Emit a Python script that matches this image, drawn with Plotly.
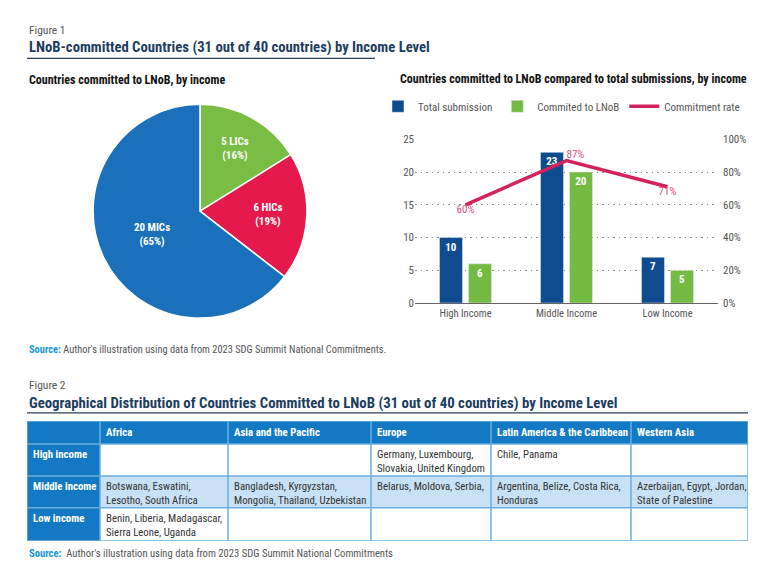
import plotly.graph_objects as go

W, H = 778, 564

# ---------------- data ----------------
pie_labels = ["LICs", "HICs", "MICs"]
pie_values = [5, 6, 20]

income_cats = ["High Income", "Middle Income", "Low Income"]
total_submission = [10, 23, 7]
committed = [6, 20, 5]
commit_rate = [0.60, 0.87, 0.71]

regions = ["Africa", "Asia and the Pacific", "Europe",
           "Latin America & the Caribbean", "Western Asia"]
income_rows = ["High income", "Middle income", "Low income"]
high_income = ["", "", "Germany, Luxembourg,<br>Slovakia, United Kingdom",
               "Chile, Panama", ""]
middle_income = ["Botswana, Eswatini,<br>Lesotho, South Africa",
                 "Bangladesh, Kyrgyzstan,<br>Mongolia, Thailand, Uzbekistan",
                 "Belarus, Moldova, Serbia,",
                 "Argentina, Belize, Costa Rica,<br>Honduras",
                 "Azerbaijan, Egypt, Jordan,<br>State of Palestine"]
low_income = ["Benin, Liberia, Madagascar,<br>Sierra Leone, Uganda", "", "", "", ""]
row_cells = [high_income, middle_income, low_income]

# ---------------- styling ----------------
COND = "Liberation Sans Narrow, Roboto Condensed, DejaVu Sans Condensed, Roboto, sans-serif"
NAVY_T = "#1c3d5e"
BLUE_PIE, GREEN_PIE, RED_PIE = "#1a70ba", "#7abd45", "#e5194c"
BAR_NAVY, BAR_GREEN = "#0f4c8f", "#74bb44"
LINE_RED = "#d4225a"
TBL_BLUE, TBL_LIGHT, TBL_LINE = "#1479c4", "#c8e1f5", "#6aaee0"
SRC_BLUE = "#1696d6"

# table geometry (layout only)
col_w = [73, 128, 143, 120, 140, 117]
row_h = [23, 32, 32, 33]
TBL_X0, TBL_Y0 = 27, 420

# vertical calibration of the rendered page
VA, VB = 4.6, 0.978


def px(x):
    return x / W


def py(y):
    return 1 - ((y - VA) / VB) / H


def cum(v):
    out = [0]
    for a in v:
        out.append(out[-1] + a)
    return out


x_edges = cum(col_w)
y_edges = cum(row_h)

fig = go.Figure()

# Pie
fig.add_trace(go.Pie(
    labels=pie_labels, values=pie_values, sort=False, direction="clockwise",
    rotation=0,
    marker=dict(colors=[GREEN_PIE, RED_PIE, BLUE_PIE], line=dict(color="white", width=1.5)),
    texttemplate="<b>%{value} %{label}<br>(%{percent:.0%})</b>",
    textposition="inside", insidetextorientation="horizontal",
    textfont=dict(family=COND, size=11, color="white"),
    domain=dict(x=[px(93), px(307)], y=[py(317), py(103)]),
    showlegend=False, hoverinfo="label+value+percent",
))

# Bars
for name, vals, col in [("Total submission", total_submission, BAR_NAVY),
                        ("Commited to LNoB", committed, BAR_GREEN)]:
    fig.add_trace(go.Bar(
        x=income_cats, y=vals, name=name,
        marker_color=col, texttemplate="<b>%{y}</b>", textposition="inside",
        insidetextanchor="end", textangle=0,
        textfont=dict(family=COND, size=11, color="white"),
        xaxis="x", yaxis="y",
    ))
fig.add_trace(go.Scatter(
    x=income_cats, y=commit_rate, name="Commitment rate", mode="lines+text",
    line=dict(color=LINE_RED, width=3.5),
    text=[f"{v:.0%}" for v in commit_rate],
    textposition=["bottom center", "top right", "bottom center"],
    textfont=dict(family=COND, size=11, color="#e0507a"),
    xaxis="x", yaxis="y2", cliponaxis=False,
))

# Table: cell fills as a heatmap on its own axes
fill_code = {"header": 0, "High income": 1, "Middle income": 2, "Low income": 1}
z = [[0] * len(col_w)]
for r in income_rows:
    z.append([0] + [fill_code[r]] * len(regions))
fig.add_trace(go.Heatmap(
    z=z, x=x_edges, y=y_edges, xaxis="x3", yaxis="y3",
    colorscale=[[0, TBL_BLUE], [0.5, "white"], [1, TBL_LIGHT]], zmin=0, zmax=2,
    showscale=False, hoverinfo="skip",
))

# ---------------- layout ----------------
ann = []


def text(x, y, s, size, color, **kw):
    ann.append(dict(x=px(x), y=py(y), xref="paper", yref="paper", text=s,
                    showarrow=False, xanchor="left", yanchor="middle",
                    font=dict(family=COND, size=size, color=color), **kw))


text(27, 29, "Figure 1", 11.5, "#555555")
text(27, 46, "<b>LNoB-committed Countries (31 out of 40 countries) by Income Level</b>", 14.7, NAVY_T)
text(27, 79, "<b>Countries committed to LNoB, by income</b>", 12, "#111111")
text(398, 78, "<b>Countries committed to LNoB compared to total submissions, by income</b>", 12, "#111111")
text(27, 348, f"<b><span style='color:{SRC_BLUE}'>Source:</span></b> Author's illustration using data from 2023 SDG Summit National Commitments.", 10.4, "#555555")
text(27, 384, "Figure 2", 11.5, "#555555")
text(27, 402, "<b>Geographical Distribution of Countries Committed to LNoB (31 out of 40 countries) by Income Level</b>", 14.8, NAVY_T)
text(27, 553, f"<b><span style='color:{SRC_BLUE}'>Source:</span></b>  Author's illustration using data from 2023 SDG Summit National Commitments", 10.6, "#555555")

# table texts
TF = 10.8
for j, reg in enumerate(regions):
    ann.append(dict(x=x_edges[j + 1] + 4, y=(y_edges[0] + y_edges[1]) / 2, xref="x3", yref="y3",
                    text=f"<b>{reg}</b>", showarrow=False, xanchor="left", yanchor="middle",
                    font=dict(family=COND, size=TF, color="white")))
for i, r in enumerate(income_rows):
    top = y_edges[i + 1]
    ann.append(dict(x=x_edges[0] + 4, y=top + 2, xref="x3", yref="y3",
                    text=f"<b>{r}</b>", showarrow=False, xanchor="left", yanchor="top",
                    font=dict(family=COND, size=TF, color="white")))
    for j, cell in enumerate(row_cells[i]):
        if cell:
            ann.append(dict(x=x_edges[j + 1] + 4, y=top + 2, xref="x3", yref="y3",
                            text=cell, showarrow=False, xanchor="left", yanchor="top", align="left",
                            font=dict(family=COND, size=TF, color="#333333")))

shapes = [
    dict(type="line", xref="paper", yref="paper", x0=px(27), x1=px(375), y0=py(57), y1=py(57),
         line=dict(color="#2b3f55", width=1.2)),
    dict(type="line", xref="paper", yref="paper", x0=px(27), x1=px(748), y0=py(412), y1=py(412),
         line=dict(color="#2b3f55", width=1.2)),
]
for xe in x_edges:
    shapes.append(dict(type="line", xref="x3", yref="y3", x0=xe, x1=xe, y0=0, y1=y_edges[-1],
                       line=dict(color=TBL_LINE, width=1.5), layer="above"))
for ye in y_edges:
    shapes.append(dict(type="line", xref="x3", yref="y3", x0=0, x1=x_edges[-1], y0=ye, y1=ye,
                       line=dict(color=TBL_LINE, width=1.5), layer="above"))

fig.update_layout(
    width=W, height=H, margin=dict(l=0, r=0, t=0, b=0),
    paper_bgcolor="white", plot_bgcolor="white",
    font=dict(family=COND, size=11, color="#555555"),
    annotations=ann, shapes=shapes,
    barmode="group", bargap=0.426, bargroupgap=0.207,
    xaxis=dict(domain=[px(415), px(718)], anchor="y", showline=True, linecolor="#666666",
               linewidth=1, ticks="", tickfont=dict(family=COND, size=10.5, color="#555555"),
               fixedrange=True),
    yaxis=dict(domain=[py(302), py(138)], range=[0, 25], dtick=5, showgrid=True,
               gridcolor="#8a8a8a", griddash="1.5px,4px", gridwidth=1, zeroline=False,
               tickfont=dict(family=COND, size=11, color="#555555"), fixedrange=True),
    yaxis2=dict(overlaying="y", side="right", range=[0, 1], dtick=0.2, tickformat=".0%",
                showgrid=False, zeroline=False, anchor="x", ticklabelstandoff=4,
                tickfont=dict(family=COND, size=11, color="#555555"), fixedrange=True),
    xaxis3=dict(domain=[px(TBL_X0), px(TBL_X0 + x_edges[-1])], range=[0, x_edges[-1]],
                anchor="y3", visible=False, fixedrange=True),
    yaxis3=dict(domain=[py(TBL_Y0 + y_edges[-1]), py(TBL_Y0)], range=[y_edges[-1], 0],
                anchor="x3", visible=False, fixedrange=True),
    legend=dict(orientation="h", x=px(378), y=py(105), xanchor="left", yanchor="middle",
                font=dict(family=COND, size=11, color="#555555"),
                traceorder="normal", bgcolor="rgba(0,0,0,0)"),
)

fig.write_html("out.html", config={"displayModeBar": False},
               post_script="document.body.style.margin='0';")
